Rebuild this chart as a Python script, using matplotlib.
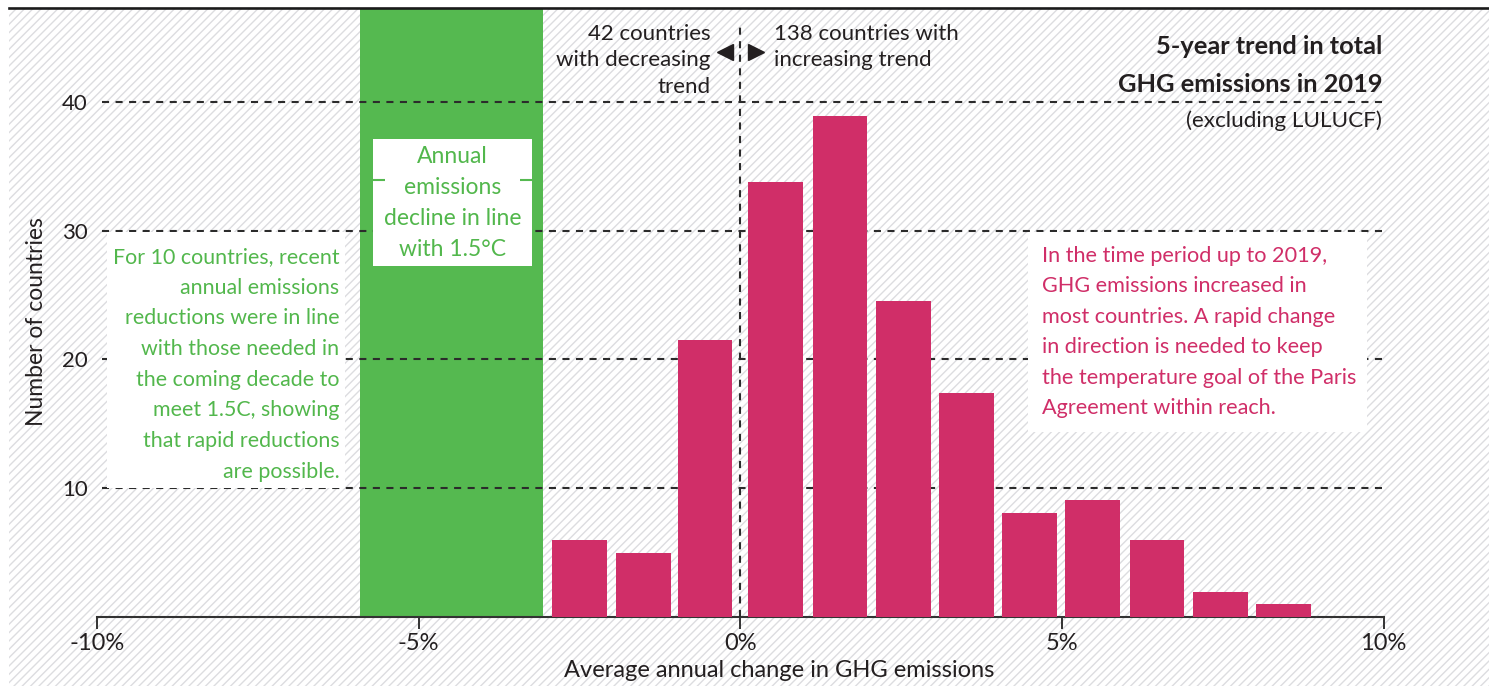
import matplotlib
matplotlib.use('Agg')
import matplotlib.pyplot as plt
from matplotlib.patches import Rectangle
from matplotlib.lines import Line2D

plt.rcParams['font.family'] = ['Lato', 'DejaVu Sans']
plt.rcParams['hatch.linewidth'] = 1.0

# ---------------- data ----------------
bin_centers = [-2.5, -1.5, -0.55, 0.55, 1.55, 2.54, 3.52, 4.5, 5.48, 6.48, 7.46, 8.44]
counts = [6, 5, 21.5, 33.8, 38.9, 24.5, 17.4, 8.1, 9.1, 6, 2, 1]
bar_width = 0.85

x_ticks = [-10, -5, 0, 5, 10]
x_tick_labels = ['-10%', '-5%', '0%', '5%', '10%']
y_ticks = [10, 20, 30, 40]
y_tick_labels = ['10', '20', '30', '40']

green_range = [-5.91, -3.07]   # annual decline in line with 1.5C

title_lines = ['5-year trend in total', 'GHG emissions in 2019']
subtitle = '(excluding LULUCF)'
x_label = 'Average annual change in GHG emissions'
y_label = 'Number of countries'
decreasing_lines = ['42 countries', 'with decreasing', 'trend']
increasing_lines = ['138 countries with', 'increasing trend']
green_box_lines = ['Annual', 'emissions', 'decline in line', 'with 1.5°C']
left_box_lines = ['For 10 countries, recent', 'annual emissions',
                  'reductions were in line', 'with those needed in',
                  'the coming decade to', 'meet 1.5C, showing',
                  'that rapid reductions', 'are possible.']
right_box_lines = ['In the time period up to 2019,', 'GHG emissions increased in',
                   'most countries. A rapid change', 'in direction is needed to keep',
                   'the temperature goal of the Paris', 'Agreement within reach.']

# ---------------- style ----------------
PINK = '#d02e68'
GREEN = '#55b950'
GREEN_TXT = '#52b74c'
DARK = '#231f20'
GRID = '#2b2b2b'
HATCH = '#dcdde0'

W, H = 1489, 686
fig = plt.figure(figsize=(W / 100, H / 100), dpi=100)
fig.patch.set_facecolor('white')

bg = Rectangle((9 / W, 0), 1 - 9 / W, (H - 8) / H, transform=fig.transFigure,
               facecolor='white', edgecolor=HATCH, hatch='////', lw=0, zorder=-10)
fig.add_artist(bg)
fig.add_artist(Line2D([9 / W, 1], [1 - 7.5 / H] * 2, transform=fig.transFigure,
                      color='#1a1a1a', lw=1.9))

x0, x1 = 97, 1383.6
y_base, y_top = 617.3, 8
px_per_unit = 12.89
ax = fig.add_axes([x0 / W, (H - y_base) / H, (x1 - x0) / W, (y_base - y_top) / H])
ax.patch.set_alpha(0)
ax.set_xlim(-10, 10)
ax.set_ylim(0, (y_base - y_top) / px_per_unit)

for s in ['top', 'right', 'left']:
    ax.spines[s].set_visible(False)
ax.spines['bottom'].set_color('#333333')
ax.spines['bottom'].set_linewidth(1.5)

ax.axvspan(green_range[0], green_range[1], color=GREEN, lw=0, zorder=1)

dash = (0, (3.4, 3.1))
ax.hlines(y_ticks, -9.93, 10, colors=GRID, lw=1.5, linestyles=[dash], zorder=2)

ax.bar(bin_centers, counts, width=bar_width, color=PINK, zorder=3)

ax.vlines(0, 0, (y_base - 25) / px_per_unit, colors=GRID, lw=1.5,
          linestyles=[dash], zorder=4)

ax.set_xticks(x_ticks, x_tick_labels)
ax.set_yticks(y_ticks, y_tick_labels)
ax.tick_params(axis='x', length=8.6, width=1.4, color='#333333', labelsize=17,
               pad=2.5, labelcolor=DARK)
ax.tick_params(axis='y', length=0, pad=6.5, labelsize=16, labelcolor=DARK)

def px2x(px):
    return (px - 740) / 64.33

def px2y(py):
    return (y_base - py) / px_per_unit

# white boxes
ax.add_patch(Rectangle((px2x(107), 10), px2x(345) - px2x(107), px2y(232) - 10,
                       facecolor='white', lw=0, zorder=5))
ax.add_patch(Rectangle((px2x(1028), px2y(432)), px2x(1367) - px2x(1028),
                       px2y(232) - px2y(432), facecolor='white', lw=0, zorder=5))
ax.add_patch(Rectangle((px2x(373), px2y(265.7)), px2x(532) - px2x(373),
                       px2y(139) - px2y(265.7), facecolor='white', lw=0, zorder=5))
ax.plot([px2x(373), px2x(385)], [px2y(180)] * 2, color=GREEN, lw=1.5, zorder=6,
        solid_capstyle='butt')
ax.plot([px2x(520), px2x(532)], [px2y(180)] * 2, color=GREEN, lw=1.5, zorder=6,
        solid_capstyle='butt')

def lines(xpx, first_base_px, spacing_px, items, ha, color, size, weight='normal'):
    for i, t in enumerate(items):
        ax.text(px2x(xpx), px2y(first_base_px + i * spacing_px), t, ha=ha,
                va='baseline', color=color, fontsize=size, fontweight=weight,
                zorder=7)

lines(339, 263, 30.7, left_box_lines, 'right', GREEN_TXT, 15.4)
lines(1042, 261.7, 30.5, right_box_lines, 'left', PINK, 15.6)
lines(452.5, 163, 31, green_box_lines, 'center', GREEN_TXT, 16.5)
lines(710, 40, 26.5, decreasing_lines, 'right', DARK, 16)
lines(774, 40, 26.5, increasing_lines, 'left', DARK, 16)
lines(1382, 54, 37.7, title_lines, 'right', DARK, 18.3, 'bold')
lines(1382, 127, 30, [subtitle], 'right', DARK, 16.2)

ax.plot([px2x(725)], [px2y(52)], marker='<', ms=11, color=DARK, zorder=7)
ax.plot([px2x(756)], [px2y(52)], marker='>', ms=11, color=DARK, zorder=7)

fig.text(37 / W, 1 - 322 / H, y_label, rotation=90, ha='center', va='center',
         fontsize=16.5, color=DARK)
fig.text(779 / W, 1 - 677 / H, x_label, ha='center', va='baseline',
         fontsize=17, color=DARK)

fig.savefig('out.png', dpi=100)
